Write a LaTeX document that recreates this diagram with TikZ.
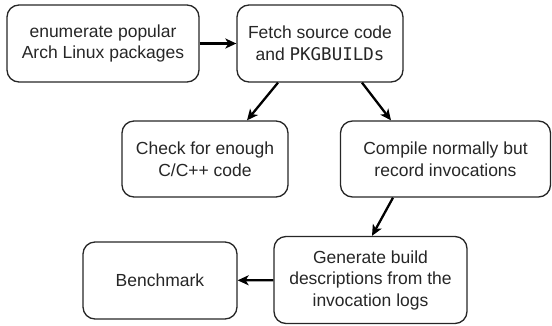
\documentclass[tikz,border=0pt]{standalone}
\usepackage{fontspec}
\setmainfont{Liberation Sans}
\newfontfamily\monof{DejaVu Sans Mono}
\usetikzlibrary{arrows.meta}
\begin{document}
\begin{tikzpicture}[x=1pt,y=-1pt,
  box/.style={draw=black!85, line width=1.3pt, rounded corners=12pt, align=center,
    font=\fontsize{17.5}{21.5}\selectfont, text=black!85, inner sep=0pt},
  flow/.style={line width=2.3pt, -{Stealth[length=11pt,width=10pt,inset=3pt]}}]
\useasboundingbox (0,0) rectangle (552,325);
\node[box, minimum width=192pt, minimum height=77pt] (n1) at (103,43.5) {enumerate popular\\Arch Linux packages};
\node[box, minimum width=166pt, minimum height=77pt] (n2) at (320,43.5) {Fetch source code\\and {\monof PKGBUILDs}};
\node[box, minimum width=166pt, minimum height=76pt] (n3) at (205,159) {Check for enough\\C/C++ code};
\node[box, minimum width=210pt, minimum height=76pt] (n4) at (445.5,159) {Compile normally but\\record invocations};
\node[box, minimum width=193pt, minimum height=87pt] (n5) at (370.5,280) {Generate build\\descriptions from the\\invocation logs};
\node[box, minimum width=154pt, minimum height=77pt] (n6) at (160,280.5) {Benchmark};
\draw[flow] (n1) -- (n2);
\draw[flow] ([xshift=-42pt]n2.south) -- ([xshift=42pt]n3.north);
\draw[flow] ([xshift=42pt]n2.south) -- ([xshift=-54.5pt]n4.north);
\draw[flow] ([xshift=-52.5pt]n4.south) -- ([xshift=1.5pt]n5.north);
\draw[flow] (n5) -- (n6);
\end{tikzpicture}
\end{document}
